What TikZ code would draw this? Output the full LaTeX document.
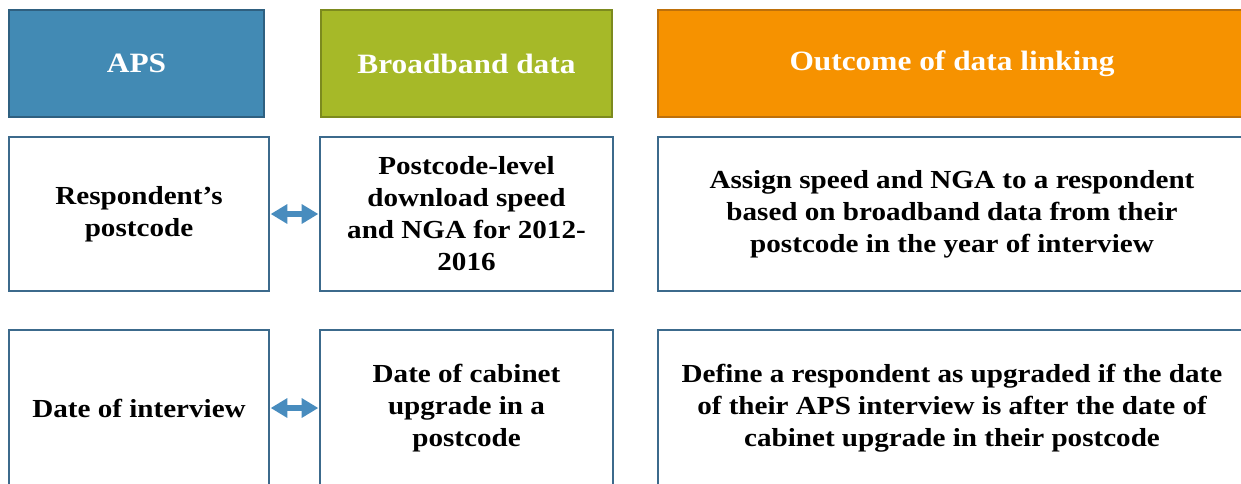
\documentclass[tikz,border=0pt]{standalone}
\usepackage{fontspec}
\setmainfont{Liberation Serif}[FakeStretch=1.12]
\usetikzlibrary{arrows.meta,positioning}
\definecolor{apsblue}{RGB}{66,138,180}
\definecolor{apsdark}{RGB}{47,96,128}
\definecolor{bbgreen}{RGB}{166,185,40}
\definecolor{bbdark}{RGB}{124,138,30}
\definecolor{outorange}{RGB}{246,146,0}
\definecolor{outdark}{RGB}{190,112,10}
\definecolor{frame}{RGB}{60,106,140}
\definecolor{linkblue}{RGB}{72,140,190}
\tikzset{
  head/.style  = {draw, line width=1.5pt, text=white, align=center,
                  minimum height=80.25pt, inner sep=0pt,
                  font=\fontsize{21}{25}\selectfont\bfseries},
  cell/.style  = {draw=frame, fill=white, line width=1.5pt, text=black,
                  align=center, inner sep=0pt,
                  font=\fontsize{19.5}{24}\selectfont\bfseries},
  link/.style  = {{Triangle[length=12.5pt,width=14pt]}-{Triangle[length=12.5pt,width=14pt]},
                  draw=linkblue, line width=5pt, shorten <=0.5pt, shorten >=0.5pt},
}

\begin{document}
\begin{tikzpicture}[x=0.75pt,y=-0.75pt]
\clip (0,0) rectangle (1241,483);
\fill[white] (0,0) rectangle (1241,483);

% headers
\node[head, fill=apsblue, draw=apsdark, minimum width=191.25pt] (aps) at (136.5,63.5) {APS};
\node[head, fill=bbgreen, draw=bbdark, minimum width=218.25pt] (bband) at (466.5,63.5) {Broadband data};
\node[head, fill=outorange, draw=outdark, minimum width=441pt] (outcome) at (952,63.5) {Outcome of data linking};

% postcode row
\node[cell, minimum width=195pt, minimum height=115.5pt] (resp) at (139,214) {Respondent’s\\postcode};
\node[cell, minimum width=219.75pt, minimum height=115.5pt] (pclevel) at (466.5,214) {Postcode-level\\download speed\\and NGA for 2012-\\2016};
\node[cell, minimum width=441pt, minimum height=115.5pt] (assign) at (952,214) {Assign speed and NGA to a respondent\\based on broadband data from their\\postcode in the year of interview};

% interview date row
\node[cell, minimum width=195pt, minimum height=117pt] (intdate) at (139,408) {Date of interview};
\node[cell, minimum width=219.75pt, minimum height=117pt] (cabinet) at (466.5,408) {Date of cabinet\\upgrade in a\\postcode};
\node[cell, minimum width=441pt, minimum height=117pt] (upgraded) at (952,408) {Define a respondent as upgraded if the date\\of their APS interview is after the date of\\cabinet upgrade in their postcode};

\draw[link] (resp.east) -- (pclevel.west);
\draw[link] (intdate.east) -- (cabinet.west);
\end{tikzpicture}
\end{document}
